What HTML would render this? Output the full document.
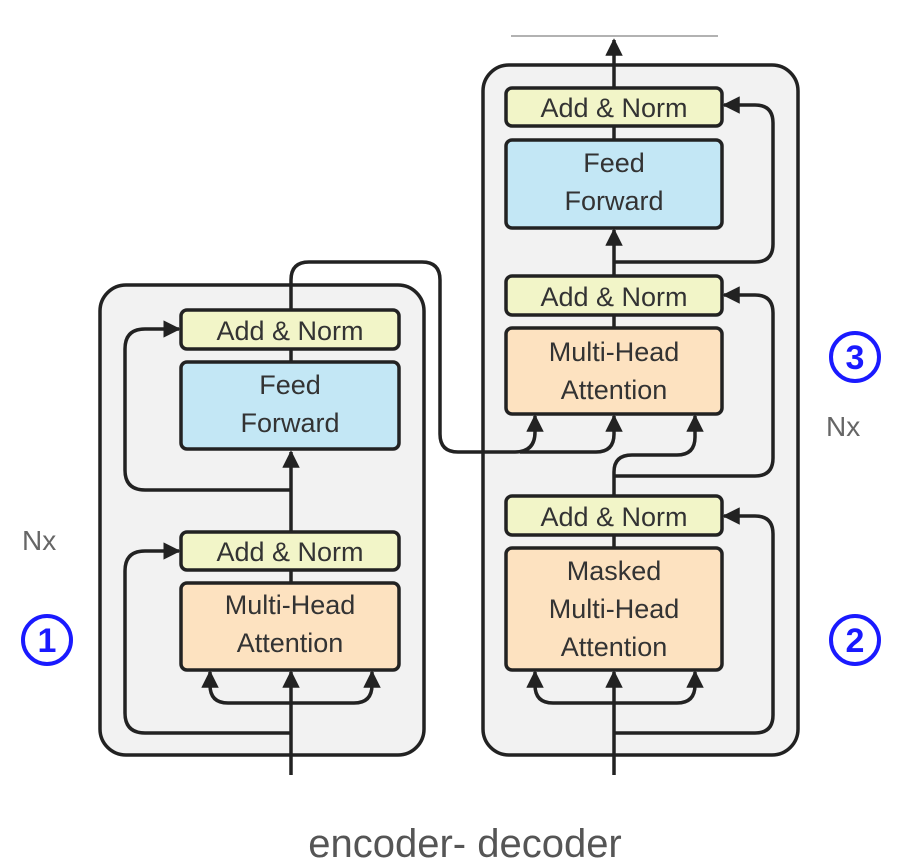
<!DOCTYPE html>
<html><head><meta charset="utf-8"><style>
html,body{margin:0;padding:0;background:#fff;width:905px;height:865px;overflow:hidden}
text{font-family:"Liberation Sans",sans-serif}
</style></head><body>
<svg width="905" height="865" viewBox="0 0 905 865" xmlns="http://www.w3.org/2000/svg">
<defs>
<marker id="a" viewBox="0 0 10 10" refX="9" refY="5" markerWidth="5" markerHeight="5" orient="auto"><path d="M0,0 L10,5 L0,10 z" fill="#222"/></marker>
</defs>
<g stroke="#222" stroke-width="3.5" fill="none">
<rect x="100" y="285" width="324" height="470" rx="26" fill="#f2f2f2"/>
<rect x="483" y="65" width="315" height="690" rx="26" fill="#f2f2f2"/>
<line x1="511" y1="36" x2="718" y2="36" stroke="#999" stroke-width="1.5"/>
<!-- encoder -->
<line x1="291" y1="775" x2="291" y2="672" marker-end="url(#a)"/>
<line x1="291" y1="570" x2="291" y2="452" marker-end="url(#a)"/>
<line x1="291" y1="583" x2="291" y2="570"/>
<line x1="291" y1="349" x2="291" y2="362"/>
<path d="M291,703 H228 Q210,703 210,685 V672" marker-end="url(#a)"/>
<path d="M291,703 H354 Q372,703 372,685 V672" marker-end="url(#a)"/>
<path d="M291,733 H145 Q125,733 125,713 V571 Q125,551 145,551 H179" marker-end="url(#a)"/>
<path d="M291,490 H145 Q125,490 125,470 V349 Q125,329 145,329 H179" marker-end="url(#a)"/>
<path d="M291,310 V280 Q291,262 309,262 H422 Q440,262 440,280 V434 Q440,452 458,452 H515 Q535,452 535,432 V416" marker-end="url(#a)"/>
<path d="M520,452 H596 Q614,452 614,434 V416" marker-end="url(#a)"/>
<!-- decoder -->
<line x1="614" y1="775" x2="614" y2="672" marker-end="url(#a)"/>
<path d="M614,703 H553 Q535,703 535,685 V672" marker-end="url(#a)"/>
<path d="M614,703 H677 Q695,703 695,685 V672" marker-end="url(#a)"/>
<line x1="614" y1="548" x2="614" y2="535"/>
<path d="M614,496 V472 Q614,455 632,455 H677 Q695,455 695,437 V416" marker-end="url(#a)"/>
<path d="M614,733 H755 Q773,733 773,715 V534 Q773,516 755,516 H724" marker-end="url(#a)"/>
<path d="M614,476 H755 Q773,476 773,458 V313 Q773,295 755,295 H724" marker-end="url(#a)"/>
<line x1="614" y1="328" x2="614" y2="315"/>
<line x1="614" y1="276" x2="614" y2="230" marker-end="url(#a)"/>
<path d="M614,262 H755 Q773,262 773,244 V123 Q773,105 755,105 H724" marker-end="url(#a)"/>
<line x1="614" y1="140" x2="614" y2="126"/>
<line x1="614" y1="88" x2="614" y2="40" marker-end="url(#a)"/>
<!-- boxes -->
<rect x="181" y="310" width="218" height="39" rx="6" fill="#f2f5c8"/>
<rect x="181" y="362" width="218" height="87" rx="6" fill="#c3e7f5"/>
<rect x="181" y="532" width="218" height="38" rx="6" fill="#f2f5c8"/>
<rect x="181" y="583" width="218" height="87" rx="6" fill="#fde2c0"/>
<rect x="506" y="88" width="216" height="38" rx="6" fill="#f2f5c8"/>
<rect x="506" y="140" width="216" height="88" rx="6" fill="#c3e7f5"/>
<rect x="506" y="276" width="216" height="39" rx="6" fill="#f2f5c8"/>
<rect x="506" y="328" width="216" height="86" rx="6" fill="#fde2c0"/>
<rect x="506" y="496" width="216" height="39" rx="6" fill="#f2f5c8"/>
<rect x="506" y="548" width="216" height="122" rx="6" fill="#fde2c0"/>
</g>
<g fill="#333" font-size="27" text-anchor="middle">
<text x="290" y="340">Add &amp; Norm</text>
<text x="290" y="394">Feed</text><text x="290" y="432">Forward</text>
<text x="290" y="561">Add &amp; Norm</text>
<text x="290" y="614">Multi-Head</text><text x="290" y="652">Attention</text>
<text x="614" y="117">Add &amp; Norm</text>
<text x="614" y="172">Feed</text><text x="614" y="210">Forward</text>
<text x="614" y="306">Add &amp; Norm</text>
<text x="614" y="361">Multi-Head</text><text x="614" y="399">Attention</text>
<text x="614" y="526">Add &amp; Norm</text>
<text x="614" y="580">Masked</text><text x="614" y="618">Multi-Head</text><text x="614" y="656">Attention</text>
</g>
<g fill="#666" font-size="28">
<text x="22" y="550">Nx</text>
<text x="826" y="436">Nx</text>
</g>
<g stroke="#1a1aff" stroke-width="4" fill="none">
<circle cx="47" cy="640" r="24"/><circle cx="855" cy="357" r="24"/><circle cx="855" cy="640" r="24"/>
</g>
<g fill="#1a1aff" font-size="34" font-weight="bold" text-anchor="middle">
<text x="47" y="652">1</text><text x="855" y="369">3</text><text x="855" y="652">2</text>
</g>
<text x="465" y="857" font-size="40" fill="#555" text-anchor="middle">encoder- decoder</text>
</svg>
</body></html>
